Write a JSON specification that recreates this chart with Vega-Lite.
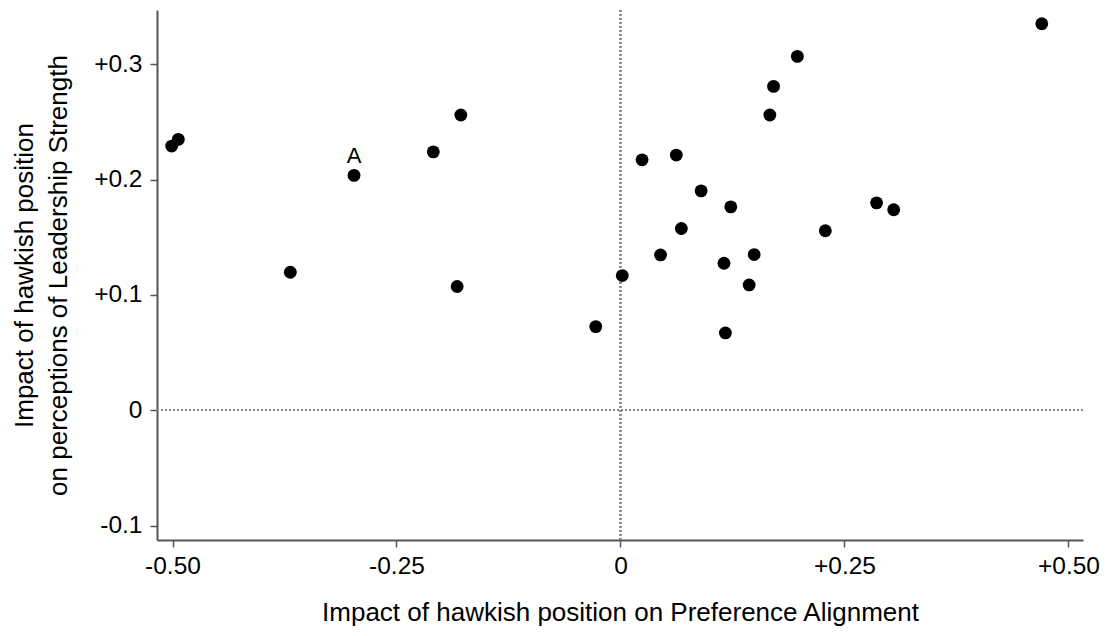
{
  "$schema": "https://vega.github.io/schema/vega-lite/v6.json",
  "width": 926,
  "height": 530,
  "autosize": {"type": "none"},
  "padding": {"left": 157, "top": 10, "right": 23, "bottom": 96},
  "background": "white",
  "config": {
    "view": {"stroke": null},
    "font": "Liberation Sans",
    "axis": {
      "grid": false,
      "domainColor": "#555555",
      "domainWidth": 2,
      "tickColor": "#555555",
      "tickWidth": 1.5,
      "tickSize": 7,
      "labelColor": "#000000",
      "labelFontSize": 24.5,
      "titleColor": "#000000",
      "titleFontSize": 26,
      "titleFontWeight": "normal"
    },
    "axisX": {"labelPadding": 7, "titlePadding": 22},
    "axisY": {"labelPadding": 8, "titlePadding": 22, "titleLineHeight": 34}
  },
  "data": {
    "values": [
      {"x": -0.5009, "y": 0.2290, "label": ""},
      {"x": -0.4935, "y": 0.2348, "label": ""},
      {"x": -0.2974, "y": 0.2036, "label": "A"},
      {"x": -0.3685, "y": 0.1197, "label": ""},
      {"x": -0.2089, "y": 0.2240, "label": ""},
      {"x": -0.1782, "y": 0.2559, "label": ""},
      {"x": -0.1823, "y": 0.1073, "label": ""},
      {"x": -0.0276, "y": 0.0726, "label": ""},
      {"x": 0.0020, "y": 0.1168, "label": ""},
      {"x": 0.0241, "y": 0.2171, "label": ""},
      {"x": 0.0623, "y": 0.2212, "label": ""},
      {"x": 0.0447, "y": 0.1347, "label": ""},
      {"x": 0.0679, "y": 0.1576, "label": ""},
      {"x": 0.0900, "y": 0.1902, "label": ""},
      {"x": 0.1155, "y": 0.1275, "label": ""},
      {"x": 0.1171, "y": 0.0671, "label": ""},
      {"x": 0.1231, "y": 0.1763, "label": ""},
      {"x": 0.1436, "y": 0.1087, "label": ""},
      {"x": 0.1492, "y": 0.1350, "label": ""},
      {"x": 0.1667, "y": 0.2559, "label": ""},
      {"x": 0.1708, "y": 0.2807, "label": ""},
      {"x": 0.1974, "y": 0.3067, "label": ""},
      {"x": 0.2286, "y": 0.1556, "label": ""},
      {"x": 0.2858, "y": 0.1798, "label": ""},
      {"x": 0.3049, "y": 0.1738, "label": ""},
      {"x": 0.4702, "y": 0.3350, "label": ""}
    ]
  },
  "layer": [
    {
      "mark": {"type": "rule", "strokeDash": [1.5, 2.5], "color": "#888888", "strokeWidth": 1.2},
      "encoding": {
        "x": {
          "datum": 0,
          "type": "quantitative",
          "title": "Impact of hawkish position on Preference Alignment",
          "scale": {"domain": [-0.5173, 0.5162], "nice": false, "zero": false},
          "axis": {
            "values": [-0.5, -0.25, 0, 0.25, 0.5],
            "labelExpr": "datum.value == 0 ? '0' : (datum.value > 0 ? '+' : '-') + format(abs(datum.value), '.2f')"
          }
        }
      }
    },
    {
      "mark": {"type": "rule", "strokeDash": [1.5, 2.5], "color": "#888888", "strokeWidth": 1.2},
      "encoding": {
        "y": {
          "datum": 0,
          "type": "quantitative",
          "title": ["Impact of hawkish position", "on perceptions of Leadership Strength"],
          "scale": {"domain": [-0.1123, 0.3469], "nice": false, "zero": false},
          "axis": {
            "values": [-0.1, 0, 0.1, 0.2, 0.3],
            "labelExpr": "abs(datum.value) < 0.0001 ? '0' : (datum.value > 0 ? '+' : '-') + format(abs(datum.value), '.1f')"
          }
        }
      }
    },
    {
      "mark": {"type": "circle", "size": 165, "opacity": 1, "color": "black"},
      "encoding": {
        "x": {"field": "x", "type": "quantitative", "title": "Impact of hawkish position on Preference Alignment"},
        "y": {"field": "y", "type": "quantitative", "title": ["Impact of hawkish position", "on perceptions of Leadership Strength"]}
      }
    },
    {
      "transform": [{"filter": "datum.label != ''"}],
      "mark": {"type": "text", "dy": -19, "fontSize": 22, "color": "#000000", "font": "Liberation Sans"},
      "encoding": {
        "x": {"field": "x", "type": "quantitative", "title": "Impact of hawkish position on Preference Alignment"},
        "y": {"field": "y", "type": "quantitative", "title": ["Impact of hawkish position", "on perceptions of Leadership Strength"]},
        "text": {"field": "label"}
      }
    }
  ]
}
